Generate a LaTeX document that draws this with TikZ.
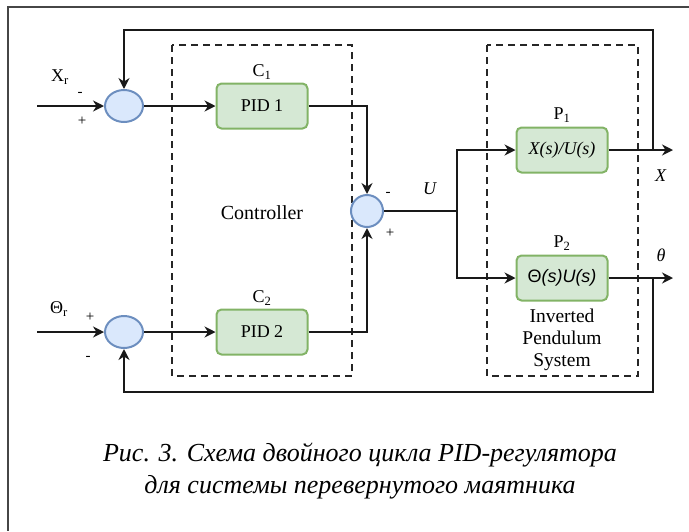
\documentclass[tikz,border=0pt]{standalone}
\usepackage{fontspec}
\setmainfont{Liberation Serif}
\newfontfamily\sansf{Liberation Sans}
\usetikzlibrary{arrows.meta,shapes.geometric}
\definecolor{sumBlue}{RGB}{218,232,252}
\definecolor{sumEdge}{RGB}{108,142,191}
\definecolor{pidGreen}{RGB}{213,232,212}
\definecolor{pidEdge}{RGB}{130,179,102}
\definecolor{frameGray}{RGB}{70,70,70}

\begin{document}
\begin{tikzpicture}[x=1pt,y=-1pt,
    font=\fontsize{18}{21}\selectfont,
    sumnode/.style={ellipse, draw=sumEdge, fill=sumBlue, line width=2pt,
        minimum width=38pt, minimum height=32pt, inner sep=0pt},
    block/.style={draw=pidEdge, fill=pidGreen, rounded corners=5pt, line width=2pt,
        minimum width=91pt, minimum height=45pt, inner sep=2pt},
    wire/.style={line width=2.2pt, black!90},
    sig/.style={wire, -{Stealth[length=11pt,width=11pt]}},
    group/.style={line width=2.2pt, black!85, dash pattern=on 7pt off 5pt},
    sign/.style={font=\fontsize{15}{17}\selectfont}]
\useasboundingbox (0,0) rectangle (689,531);

% outer frame (cut at right and bottom)
\draw[frameGray, line width=1.4pt] (689,7) -- (8,7) -- (8,531);

% dashed groups
\draw[group] (172,45) rectangle (352,376);
\draw[group] (487,45) rectangle (638,376);

% summing points
\node[sumnode] (s1) at (124,106) {};
\node[sumnode] (s2) at (124,332) {};
\node[sumnode, minimum width=32pt] (s3) at (367,211) {};

% controllers and plant
\node[block] (c1) at (262,106) {PID 1};
\node[block] (c2) at (262,332) {PID 2};
\node[block] (p1) at (562,150) {\textit{X(s)/U(s)}};
\node[block] (p2) at (562,278) {{\sansf Θ\textit{(s)U(s)}}};

% free ends and bends
\coordinate (xin) at (37,106);
\coordinate (thin) at (37,332);
\coordinate (split) at (457,211);
\coordinate (xout) at (673,150);
\coordinate (thout) at (673,278);
\coordinate (fbx) at (653,150);
\coordinate (fbth) at (653,278);
\coordinate (fbtop) at (653,30);
\coordinate (fbbot) at (653,392);

% signal flow
\draw[sig] (xin) -- (s1);
\draw[sig] (thin) -- (s2);
\draw[sig] (s1) -- (c1);
\draw[sig] (s2) -- (c2);
\draw[sig] (c1) -| (s3);
\draw[sig] (c2) -| (s3);
\draw[wire] (s3) -- (split);
\draw[sig] (split) |- (p1);
\draw[sig] (split) |- (p2);
\draw[sig] (p1) -- (xout);
\draw[sig] (p2) -- (thout);
\draw[sig] (fbx) -- (fbtop) -| (s1);
\draw[sig] (fbth) -- (fbbot) -| (s2);

% labels
\node (xr) at (60,77) {X\textsubscript{r}};
\node (thr) at (59,309) {Θ\textsubscript{r}};
\node (lc1) at (262,72) {C\textsubscript{1}};
\node (lc2) at (262,298) {C\textsubscript{2}};
\node (lp1) at (562,115) {P\textsubscript{1}};
\node (lp2) at (562,243) {P\textsubscript{2}};
\node[font=\fontsize{20}{22}\selectfont] (lctrl) at (262,213) {Controller};
\node[align=center, font=\fontsize{19.5}{22}\selectfont] (lsys) at (562,340) {Inverted\\Pendulum\\System};
\node (lu) at (430,189) {\textit{U}};
\node (lx) at (661,176) {\textit{X}};
\node (lth) at (661,255) {\textit{θ}};

% signs
\node[sign] at (80,94) {-};
\node[sign] at (82,121) {+};
\node[sign] at (90,317) {+};
\node[sign] at (88,358) {-};
\node[sign] at (388,194) {-};
\node[sign] at (390,233) {+};

% caption
\node[align=center, font=\fontsize{26}{32}\selectfont\itshape] (cap) at (360,471)
    {Рис. 3. Схема двойного цикла PID-регулятора\\для системы перевернутого маятника};
\end{tikzpicture}
\end{document}
